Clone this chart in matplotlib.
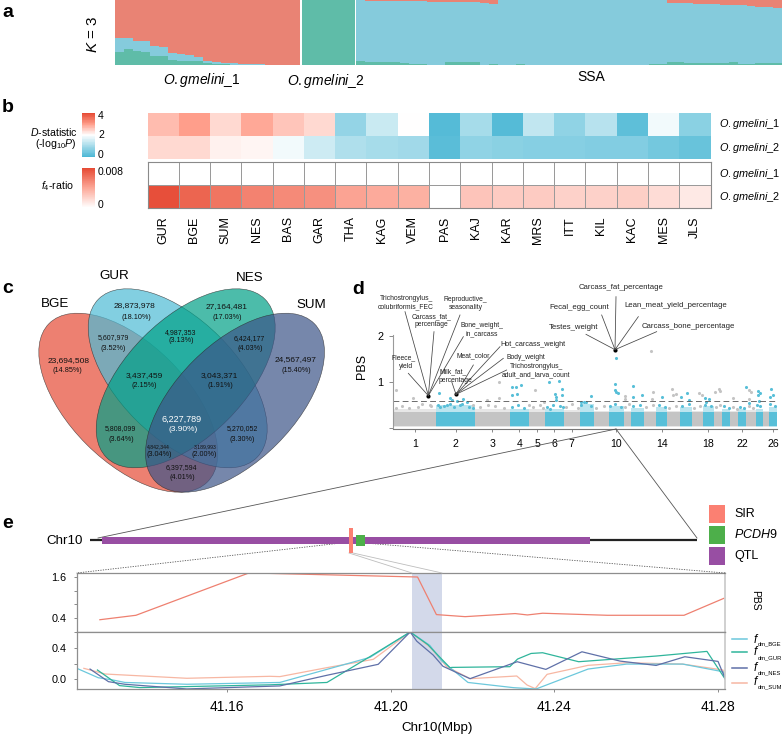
import numpy as np
import matplotlib
matplotlib.use("Agg")
import matplotlib.pyplot as plt
from matplotlib.colors import LinearSegmentedColormap
from matplotlib.patches import Ellipse, Rectangle

plt.rcParams['font.family'] = ['Liberation Sans', 'DejaVu Sans']
plt.rcParams['mathtext.fontset'] = 'custom'
plt.rcParams['mathtext.rm'] = 'Liberation Sans'
plt.rcParams['mathtext.it'] = 'Liberation Sans:italic'
plt.rcParams['mathtext.bf'] = 'Liberation Sans:bold'

# ---------- data: panel a (ancestry fractions per individual)
g1_teal = [.205, .246, .215, .205, .144, .133, .077, .067, .062, .056, .026, .015, .010, .005, .005, .005, .005, 0, 0, 0, 0]
g1_blue = [.205, .164, .154, .164, .149, .149, .103, .097, .092, .072, .036, .026, .021, .021, .015, .010, .010, .005, 0, 0, 0]
ssa_red = [0, .015, .015, .015, .020, .020, .020, .020, .026, .026, .026, .031, .031, .036, .041, .062,
           0, 0, 0, 0, 0, 0, 0, 0, 0, 0, 0, 0, 0, 0, 0, 0, 0, 0, 0,
           .041, .046, .051, .056, .062, .067, .072, .077, .082, .092, .103, .113, .128]
ssa_teal = [.062, .041, .041, .051, .041, .031, .015, .010, .005, .005, .046, .046, .046, .046, .005, .020,
            .005, .005, .015, 0, 0, 0, 0, 0, 0, 0, 0, 0, 0, 0, 0, 0, 0, .020,
            .020, .041, .041, .036, .036, .036, .031, .031, .041, .020, .020, .036, .036, .026]
# ---------- data: panel b
pops = ['GUR', 'BGE', 'SUM', 'NES', 'BAS', 'GAR', 'THA', 'KAG', 'VEM', 'PAS', 'KAJ', 'KAR', 'MRS', 'ITT', 'KIL', 'KAC', 'MES', 'JLS']
d_stat_1 = [2.7, 3.0, 2.4, 2.9, 2.6, 2.4, .8, 1.4, 2.0, .1, 1.0, .1, 1.3, .75, 1.2, .2, 1.85, .7]
d_stat_2 = [2.4, 2.4, 2.15, 2.1, 1.85, 1.45, 1.1, 1.0, .95, .15, .75, .7, .65, .65, .6, .6, .45, .3]
f4_1 = [0] * 18
f4_2 = [.0078, .0069, .0062, .0056, .0053, .005, .0042, .0039, .0036, 0, .0027, .0024, .0024, .0021, .0021, .0022, .0016, .0010]
# ---------- data: panel c
venn_sets = ['BGE', 'GUR', 'NES', 'SUM']
venn_counts = ['28,873,978', '23,694,508', '27,164,481', '24,567,497', '5,607,979', '4,987,353', '6,424,177', '3,437,459',
               '3,043,371', '5,808,099', '6,227,789', '5,270,052', '4,842,344', '3,189,993', '6,397,594']
venn_pct = ['(18.10%)', '(14.85%)', '(17.03%)', '(15.40%)', '(3.52%)', '(3.13%)', '(4.03%)', '(2.15%)',
            '(1.91%)', '(3.64%)', '(3.90%)', '(3.30%)', '(3.04%)', '(2.00%)', '(4.01%)']
# ---------- data: panel d
chrom_len = [295, 271, 235, 133, 113, 127, 110, 101, 101, 101, 53, 85, 87, 74, 92, 80, 76, 74, 60, 55, 55, 55, 64, 51, 41, 55]
chrom_top = [.42, .50, .42, .42, .42, .42, .40, .52, .38, .47, .38, .44, .38, .45, .38, .45, .38, .47, .38, .42, .38, .42, .40, .42, .38, .46]
shown_chrom = [1, 2, 3, 4, 5, 6, 7, 10, 14, 18, 22, 26]
threshold = 0.58
gray_pos = [18, 133, 253, 731, 731, 978, 644, 552, 932, 1035, 1773, 1789, 1921, 1925, 1950, 1783, 1599, 1599, 2105, 2127, 2220, 2243, 2249, 2341, 2449, 2468, 2449,
            20, 60, 110, 170, 200, 260, 600, 650, 700, 760, 960, 1010, 1030, 1190, 1230, 1270, 1400, 1450, 1600, 1625, 1740, 1790, 1900, 1950, 2075, 2110, 2225, 2250, 2340, 2365, 2450, 2480]
gray_pbs = [.826, .645, .50, 1.007, .645, .826, .608, .50, .50, .572, 1.681, .789, .855, .717, .739, .623, .695, .623, .753, .717, .789, .84, .804, .645, .623, .775, .826,
            .44, .47, .43, .46, .52, .48, .46, .50, .47, .44, .46, .50, .44, .45, .52, .44, .43, .47, .46, .52, .45, .50, .44, .49, .44, .48, .45, .50, .46, .42, .47, .43]
blue_pos = [317, 391, 403, 483, 437, 506, 817, 851, 846, 879, 817, 1076, 1139, 1164, 1116, 1162, 1120, 1120, 1168, 1081, 1311, 322, 368, 460,
            1534, 1530, 1530, 1536, 1546, 1649, 1362, 1293, 1651, 1714, 1852, 1985, 2024, 2036, 2151, 2174, 2158, 2431, 2514, 2525, 2514, 2606, 2618, 2599, 2518, 2449,
            310, 350, 390, 420, 470, 520, 550, 815, 860, 900, 1060, 1100, 1150, 1295, 1330, 1360, 1495, 1530, 1570, 1655, 1700, 1830, 1870, 1990, 2040, 2145, 2190, 2280, 2310, 2390, 2420, 2505, 2530, 2595, 2630]
blue_pbs = [.753, .645, .608, .623, .594, .572, .717, .739, .884, .934, .884, 1.007, 1.029, .847, .739, .717, .608, .681, .449, .405, .572, .463, .50, .50,
            1.514, .956, .826, .789, .753, .913, .695, .572, .681, .71, .681, .681, .768, .608, .645, .623, .572, .884, .804, .753, .717, .84, .717, .681, .594, .536,
            .50, .47, .52, .46, .53, .46, .44, .46, .50, .44, .46, .50, .47, .50, .56, .47, .47, .52, .46, .47, .50, .50, .45, .48, .52, .50, .47, .47, .44, .46, .44, .50, .47, .52, .48]
black_pos = [237, 432, 1530]
black_pbs = [.696, .739, 1.70]
# ---------- data: panel e
pbs_x = [41.1291, 41.1379, 41.1655, 41.2066, 41.2112, 41.2182, 41.2304, 41.2334, 41.2371, 41.2529, 41.2716, 41.2813]
pbs_y = [.35, .48, 1.72, 1.6, .50, .44, .53, .49, .54, .48, .48, .975]
bge_x = [41.1235, 41.1287, 41.1324, 41.1352, 41.1503, 41.1730, 41.195, 41.2048, 41.2096, 41.2124, 41.2189, 41.2300, 41.2355, 41.2482, 41.2576, 41.2713, 41.2811, 41.2818]
bge_y = [.139, .02, -.01, -.04, -.063, -.04, .278, .60, .43, .24, -.04, -.106, -.123, .13, .193, .193, .096, -.01]
gur_x = [41.1285, 41.1339, 41.1389, 41.1706, 41.1845, 41.1956, 41.2048, 41.2091, 41.2145, 41.2150, 41.2291, 41.2310, 41.2343, 41.2371, 41.2459, 41.2648, 41.2772, 41.2818]
gur_y = [.118, -.08, -.105, -.07, -.04, .307, .60, .44, .147, .151, .16, .257, .328, .337, .223, .295, .354, -.01]
nes_x = [41.1267, 41.1312, 41.1352, 41.1503, 41.1730, 41.1844, 41.1970, 41.2048, 41.2064, 41.2104, 41.2128, 41.2194, 41.2309, 41.2379, 41.2467, 41.2560, 41.2648, 41.2718, 41.2799, 41.2818]
nes_y = [.13, -.03, -.063, -.122, -.084, .05, .19, .60, .484, .308, .165, .008, .223, .126, .349, .231, .176, .286, .227, -.01]
sum_x = [41.1252, 41.1304, 41.1503, 41.1706, 41.1730, 41.1844, 41.1958, 41.2048, 41.2096, 41.2137, 41.2194, 41.2308, 41.2333, 41.2353, 41.2382, 41.2482, 41.2576, 41.2713, 41.2811, 41.2818]
sum_y = [.139, .067, .013, .038, .034, .147, .253, .60, .41, .16, .008, .042, -.072, -.118, .063, .177, .21, .193, .118, -.01]
fdm_names = ['dm_BGE', 'dm_GUR', 'dm_NES', 'dm_SUM']

W, H = 784, 735
fig = plt.figure(figsize=(W / 100, H / 100), dpi=100, facecolor='white')


def axpx(x0, y0, x1, y1, **kw):
    return fig.add_axes([x0 / W, 1 - y1 / H, (x1 - x0) / W, (y1 - y0) / H], **kw)


RED, TEAL, BLUE = '#E98374', '#5FBCA8', '#85CBDC'


# ---- panel a
def structure(ax, teal, blue):
    idx = np.arange(len(teal))
    teal = np.array(teal)
    blue = np.array(blue)
    ax.bar(idx, teal, width=1.0, color=TEAL, lw=0)
    ax.bar(idx, blue, bottom=teal, width=1.0, color=BLUE, lw=0)
    ax.bar(idx, 1 - teal - blue, bottom=teal + blue, width=1.0, color=RED, lw=0)
    ax.set_xlim(-.5, len(teal) - .5)
    ax.set_ylim(0, 1)
    ax.axis('off')


structure(axpx(115, 0, 300, 65), g1_teal, g1_blue)
structure(axpx(302, 0, 355, 65), [1.0], [0.0])
ssa_blue = 1 - np.array(ssa_teal) - np.array(ssa_red)
structure(axpx(356, 0, 782, 65), ssa_teal, ssa_blue)

# ---- panel b
cm_d = LinearSegmentedColormap.from_list('d', [(0, '#4DB8D5'), (.5, '#FFFFFF'), (.75, '#FF9F8C'), (1, '#E64B35')])
cm_f = LinearSegmentedColormap.from_list('f', ['#FFFFFF', '#FCA898', '#E64B35'])
ax = axpx(147.5, 113, 710.5, 159)
ax.pcolormesh(np.array([d_stat_2, d_stat_1]), cmap=cm_d, vmin=0, vmax=4)
ax.axis('off')
ax = axpx(147.5, 162, 710.5, 208)
ax.pcolormesh(np.array([f4_2, f4_1]), cmap=cm_f, vmin=0, vmax=.008, edgecolors='#9A9A9A', linewidth=.6)
ax.set_xticks(np.arange(18) + .5, pops, rotation=90, fontsize=9)
ax.set_yticks([])
ax.tick_params(length=0, pad=6)
for s in ax.spines.values():
    s.set_color('#8A8A8A')
    s.set_linewidth(.8)
cb = axpx(82, 113, 95, 157)
cb.pcolormesh(np.linspace(0, 4, 60).reshape(-1, 1), cmap=cm_d, vmin=0, vmax=4)
cb.axis('off')
cb = axpx(82, 168, 95, 208)
cb.pcolormesh(np.linspace(0, .008, 60).reshape(-1, 1), cmap=cm_f, vmin=0, vmax=.008)
cb.axis('off')

# ---- panel d
ax = axpx(393.3, 332, 777, 429)
lens = np.array(chrom_len, dtype=float)
starts = np.concatenate([[0], np.cumsum(lens)[:-1]])
mids = starts + lens / 2
GRAY_D, BLUE_D = '#C4C4C4', '#58BFD8'
cols = [GRAY_D if i % 2 == 0 else BLUE_D for i in range(26)]
ax.bar(mids, np.array(chrom_top) - .02, bottom=.02, width=lens, color=cols, alpha=.4, lw=0)
ax.bar(mids, .31, bottom=.05, width=lens, color=cols, lw=0)
ax.scatter(gray_pos, gray_pbs, s=5, color=GRAY_D, lw=0)
ax.scatter(blue_pos, blue_pbs, s=5, color=BLUE_D, lw=0)
ax.scatter(black_pos, black_pbs, s=9, color='black', lw=0, zorder=5)
ax.plot([0, lens.sum()], [threshold, threshold], color='#555555', lw=.6, dashes=(7, 4))
ax.set_xlim(0, lens.sum())
ax.set_ylim(-.02, 2.087)
ax.spines[['top', 'right']].set_visible(False)
ax.spines['left'].set_color('#9A9A9A')
ax.spines['bottom'].set_color('#777777')
ax.spines['left'].set_bounds(0, 2.03)
ax.set_yticks([0, 1, 2], ['', '1', '2'], fontsize=7.8)
ax.set_xticks([mids[c - 1] for c in shown_chrom], [str(c) for c in shown_chrom], fontsize=7.6)
ax.tick_params(axis='y', length=3, width=.6, color='#777777', pad=4)
ax.tick_params(axis='x', length=2, width=.6, color='#777777', pad=5)
ax.patch.set_alpha(0)

# ---- panel e
xl = (41.1234, 41.2816)
shade = '#D3D9EA'
up = axpx(76.5, 573, 725, 632)
up.axvspan(41.2052, 41.2126, color=shade, lw=0)
up.plot(pbs_x, pbs_y, color='#EE8070', lw=.9)
up.set_xlim(*xl)
up.set_ylim(-.009, 1.717)
up.set_xticks([])
up.set_yticks([.4, .8, 1.2, 1.6], ['0.4', '', '', '1.6'], fontsize=7.8)
lo = axpx(76.5, 632, 725, 689)
lo.axvspan(41.2052, 41.2126, color=shade, lw=0)
line_cols = ['#6CC8DC', '#2FB59B', '#5F70A8', '#F7B7A3']
for xs, ys, c in zip([sum_x, bge_x, gur_x, nes_x], [sum_y, bge_y, gur_y, nes_y], [line_cols[3], line_cols[0], line_cols[1], line_cols[2]]):
    lo.plot(xs, ys, color=c, lw=.9)
lo.set_xlim(*xl)
lo.set_ylim(-.123, .6)
lo.set_yticks([0, .2, .4, .6], ['0.0', '', '0.4', ''], fontsize=7.8)
lo.set_xticks([41.16, 41.20, 41.24, 41.28], ['41.16', '41.20', '41.24', '41.28'], fontsize=10)
lo.tick_params(axis='x', length=2, width=.6, pad=6, color='#777777')
for a in (up, lo):
    a.tick_params(axis='y', length=2, width=.6, pad=5, color='#777777')
    for s in a.spines.values():
        s.set_color('#8E8E8E')
        s.set_linewidth(.9)
    a.spines['right'].set_color('#C8C8C8')
    a.spines['right'].set_linewidth(1.2)

# ---- overlay in pixel units for annotations
ov = fig.add_axes([0, 0, 1, 1], zorder=20)
ov.set_xlim(0, W)
ov.set_ylim(H, 0)
ov.axis('off')
ov.patch.set_alpha(0)


def T(x, y, s, size=8, ha='center', va='center', **kw):
    ov.text(x, y, s, fontsize=size, ha=ha, va=va, **kw)


for y, s in zip([12, 107, 288], 'abc'):
    T(2, y, s, 14, ha='left', fontweight='bold')
T(352, 289, 'd', 14, ha='left', fontweight='bold')
T(2, 523, 'e', 14, ha='left', fontweight='bold')

OG = r'$\mathit{O{.}gmelini}$_'
T(202, 80, OG + '1', 10)
T(326, 81, OG + '2', 10)
T(591, 77, 'SSA', 10)
T(93, 34, r'$\mathit{K}$ = 3', 11, rotation=90)

T(78, 132, r'$\mathit{D}$-statistic', 7.6, ha='right')
T(76, 144, r'(-log$_{10}$$\mathit{P}$)', 7.6, ha='right')
T(57, 186, r'$\mathit{f}_4$-ratio', 7.6)
T(98, 116, '4', 7.5, ha='left')
T(98, 135, '2', 7.5, ha='left')
T(98, 155, '0', 7.5, ha='left')
T(98, 172, '0.008', 7.5, ha='left')
T(98, 205, '0', 7.5, ha='left')
for y, s in zip([124, 148, 174, 197], ['1', '2', '1', '2']):
    T(719, y, OG + s, 7.8, ha='left')

# venn (ellipse centres and axes are layout, in pixels)
for (cx, cy, ang), c in zip([(128.3, 402.7, 45), (177.7, 378.3, 45), (185.7, 378.3, -45), (235, 402.7, -45)],
                            ['#E64B35', '#4DBBD5', '#00A087', '#3C5488']):
    ov.add_patch(Ellipse((cx, cy), 224, 118, angle=ang, facecolor=c, alpha=.7, edgecolor='none'))
    ov.add_patch(Ellipse((cx, cy), 224, 118, angle=ang, facecolor='none', edgecolor='#2A2A2A', lw=.4, alpha=.8))
for (x, y), s in zip([(164, 118), (343, 33), (748, 38), (934, 120)], venn_sets):
    T(x / 3, 265 + y / 3, s, 9.6)
vpos = [((403, 122), (408, 157), 6, 5.2), ((205, 288), (203, 317), 6, 5.2), ((679, 124), (682, 157), 6, 5.2),
        ((886, 283), (889, 317), 6, 5.2), ((340, 217), (340, 250), 5, 5.2), ((543, 202), (545, 226), 5, 5.2),
        ((748, 222), (750, 249), 5, 5.2), ((433, 332), (432, 362), 6, 5.2), ((657, 332), (660, 362), 6, 5.2),
        ((360, 492), (363, 522), 5, 5.2), ((546, 462), (548, 494), 6.5, 6), ((726, 492), (728, 522), 5, 5.2),
        ((476, 545), (477, 567), 3.7, 5.2), ((616, 545), (614, 567), 3.7, 5.2), ((544, 608), (546, 636), 5, 5.2)]
for i, (p, q, s1, s2) in enumerate(vpos):
    c = 'white' if i == 10 else '#111111'
    T(p[0] / 3, 265 + p[1] / 3, venn_counts[i], s1, color=c)
    T(q[0] / 3, 265 + q[1] / 3, venn_pct[i], s2, color=c)


def Dp(x, y):
    return 350 + x / 3, 275 + y / 3


def DT(x, y, s, size=4.9):
    px, py = Dp(x, y)
    T(px, py, s, size, color='#222222')


def DL(a, b):
    p, q = Dp(*a), Dp(*b)
    ov.plot([p[0], q[0]], [p[1], q[1]], color='#444444', lw=.55)


T(362, 366, 'PBS', 9, rotation=90)
for a in [(175, 295), (165, 110), (252, 170), (330, 120), (340, 185)]:
    DL(a, (235, 362))
for a in [(370, 270), (305, 320), (450, 215), (460, 250), (470, 285)]:
    DL(a, (318, 358))
for a in [(708, 178), (755, 120), (798, 65), (865, 125), (920, 170)]:
    DL(a, (795, 224))
for x, y, s in [(168, 70, 'Trichostrongylus_'), (168, 96, 'colubriformis_FEC'), (347, 73, 'Reproductive_'), (347, 98, 'seasonality'),
                (245, 124, 'Carcass_fat_'), (245, 149, 'percentage'), (396, 150, 'Bone_weight_'), (396, 175, 'in_carcass'),
                (370, 242, 'Meat_color'), (527, 246, 'Body_weight'), (558, 274, 'Trichostrongylus_'),
                (558, 300, 'adult_and_larva_count'), (308, 291, 'Milk_fat_'), (315, 317, 'percentage'), (160, 248, 'Fleece_'), (167, 274, 'yield')]:
    DT(x, y, s)
DT(550, 208, 'Hot_carcass_weight', 5.2)
for x, y, s in [(814, 38, 'Carcass_fat_percentage'), (688, 96, 'Fecal_egg_count'), (976, 91, 'Lean_meat_yield_percentage'),
                (1016, 155, 'Carcass_bone_percentage'), (672, 156, 'Testes_weight')]:
    DT(x, y, s, 5.6)

# connectors and chromosome schematic
ov.plot([616, 98], [429, 538], color='#555555', lw=.6)
ov.plot([616, 697], [429, 538], color='#555555', lw=.6)
ov.plot([90, 697], [540, 540], color='#222222', lw=1.6, solid_capstyle='butt')
ov.add_patch(Rectangle((102, 537), 488, 6.5, facecolor='#984EA3', lw=0, zorder=3))
ov.add_patch(Rectangle((349, 528), 4, 25, facecolor='#FB8072', lw=0, zorder=3))
ov.add_patch(Rectangle((356.5, 534.5), 8.5, 11, facecolor='#4DAF4A', lw=0, zorder=3))
ov.plot([350, 76.5], [542, 573], color='#555555', lw=.6, ls=(0, (1.5, 1.5)))
ov.plot([365, 725], [543, 573], color='#555555', lw=.6, ls=(0, (1.5, 1.5)))
ov.plot([349, 412], [553, 573], color='#BDBDBD', lw=.6)
ov.plot([353, 442], [553, 573], color='#BDBDBD', lw=.6)
T(83, 541, 'Chr10', 9.6, ha='right')
for y, c, s in zip([505, 526, 547], ['#FB8072', '#4DAF4A', '#984EA3'], ['SIR', r'$\mathit{PCDH9}$', 'QTL']):
    ov.add_patch(Rectangle((709, y), 16, 18, facecolor=c, lw=0))
    T(734, y + 9, s, 9, ha='left')
T(755, 600, 'PBS', 7.5, rotation=270)
T(437, 728, 'Chr10(Mbp)', 9.6)
for ly, fy, sy, c, s in zip([639, 652, 668, 683], [640, 652, 668, 682], [644, 658, 673, 687], line_cols, fdm_names):
    ov.plot([732, 747], [ly, ly], color=c, lw=1.1)
    T(754, fy, 'f', 8.5, ha='left', style='italic')
    T(758, sy, s, 4.2, ha='left')

fig.savefig('out.png', dpi=100, facecolor='white')
